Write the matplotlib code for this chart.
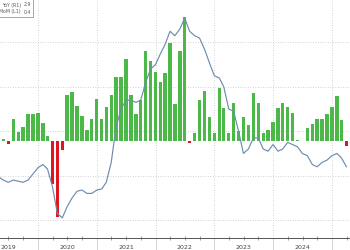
import matplotlib
matplotlib.use("Agg")
import matplotlib.pyplot as plt
import matplotlib.dates as mdates
import matplotlib.ticker as mticker
import pandas as pd
from matplotlib.patches import Rectangle

# monthly points, plotted at month end (Apr 2019 - Mar 2025)
months = pd.date_range("2019-04-30", "2025-03-31", freq="ME")

# CPI MoM % (bars, left axis)
cpi_mom = [
    0.38, 0.02, -0.03, 0.23, 0.09, 0.15, 0.28, 0.28, 0.29,                   # 2019
    0.19, 0.05, -0.45, -0.80, -0.09, 0.48, 0.51, 0.37, 0.26, 0.12, 0.23, 0.44,  # 2020
    0.23, 0.36, 0.48, 0.67, 0.67, 0.86, 0.48, 0.28, 0.43, 0.95, 0.84, 0.72,  # 2021
    0.62, 0.71, 1.03, 0.39, 0.95, 1.30, -0.02, 0.08, 0.43, 0.53, 0.25, 0.08,  # 2022
    0.56, 0.35, 0.08, 0.40, 0.10, 0.25, 0.17, 0.50, 0.40, 0.08, 0.12, 0.20,  # 2023
    0.35, 0.40, 0.36, 0.29, 0.01, 0.00, 0.14, 0.18, 0.23, 0.23, 0.28, 0.36,  # 2024
    0.47, 0.22, -0.05,                                                        # 2025
]

# CPI YoY % (line, right axis)
cpi_yoy = [
    1.95, 1.8, 1.7, 1.8, 1.75, 1.7, 1.8, 2.07, 2.35,
    2.5, 2.3, 1.5, 0.3, 0.1, 0.6, 1.0, 1.3, 1.35, 1.2, 1.2, 1.35,
    1.4, 1.7, 2.6, 4.2, 5.0, 5.4, 5.4, 5.3, 5.4, 6.2, 6.8, 7.0,
    7.5, 7.9, 8.5, 8.3, 8.6, 9.1, 8.5, 8.3, 8.2, 7.7, 7.1, 6.5,
    6.4, 6.0, 5.0, 4.9, 4.0, 3.0, 3.2, 3.7, 3.7, 3.2, 3.1, 3.4,
    3.1, 3.2, 3.5, 3.4, 3.3, 3.0, 2.9, 2.5, 2.4, 2.6, 2.7, 2.9,
    3.0, 2.8, 2.4,
]

legend_rows = ["YoY (R1)", "MoM (L1)"]
legend_vals = ["2.9", "0.4"]

fig = plt.figure(figsize=(3.5, 2.5), dpi=100)
ax = fig.add_axes([0, 0.049, 1, 0.951])
ax_bar = ax.twinx()
ax_yoy = ax.twinx()

bar_colors = ["#e0161e" if v < 0 else "#4cb848" for v in cpi_mom]
ax_bar.bar(months, cpi_mom, width=21, color=bar_colors)
ax_yoy.plot(months, cpi_yoy, color="#6e8dab", lw=0.85)

ax.set_xlim(pd.Timestamp("2019-05-10"), pd.Timestamp("2025-04-22"))
ax.set_ylim(-0.797, 9.91)
ax_yoy.set_ylim(-0.797, 9.91)
ax_bar.set_ylim(-1.016, 1.481)

# grid from the right-hand scale
ax.set_yticks([0, 2, 4, 6, 8])
ax.grid(True, linestyle=(0, (1, 2)), color="#c4c4c4", lw=0.6)
ax.tick_params(axis="y", left=False, labelleft=False)
for a in (ax_bar, ax_yoy):
    a.tick_params(axis="y", right=False, labelright=False)
    for s in a.spines.values():
        s.set_visible(False)
for s in ("top", "left", "right"):
    ax.spines[s].set_visible(False)
ax.spines["bottom"].set_color("#555555")
ax.spines["bottom"].set_linewidth(0.7)

# x axis: year boundaries as long ticks, quarter minor ticks, year label mid-year
ax.xaxis.set_major_locator(mdates.YearLocator())
ax.xaxis.set_major_formatter(mticker.NullFormatter())
ax.xaxis.set_minor_locator(mdates.MonthLocator(bymonth=[4, 7, 10]))


def year_label(x, pos):
    d = mdates.num2date(x)
    return str(d.year) if d.month == 7 else ""


ax.xaxis.set_minor_formatter(mticker.FuncFormatter(year_label))
ax.tick_params(axis="x", which="major", direction="out", length=9, color="#cccccc", width=0.6)
ax.tick_params(axis="x", which="minor", direction="inout", length=3, color="#777777",
               width=0.5, labelsize=4.5, labelcolor="#444444", pad=4)

# cut-off legend box in the top-left corner
fig.patches.append(Rectangle((-0.05, 1 - 17 / 250), 0.05 + 33 / 350, 0.2,
                             transform=fig.transFigure, facecolor="white",
                             edgecolor="#999999", lw=0.6, zorder=5))
for i in range(2):
    y = 1 - (5 + 7 * i) / 250
    fig.text(21 / 350, y, legend_rows[i], ha="right", va="center", fontsize=3.3,
             color="#555555", zorder=6)
    fig.text(31 / 350, y, legend_vals[i], ha="right", va="center", fontsize=3.3,
             color="#555555", zorder=6)

fig.savefig("out.png", dpi=100)
